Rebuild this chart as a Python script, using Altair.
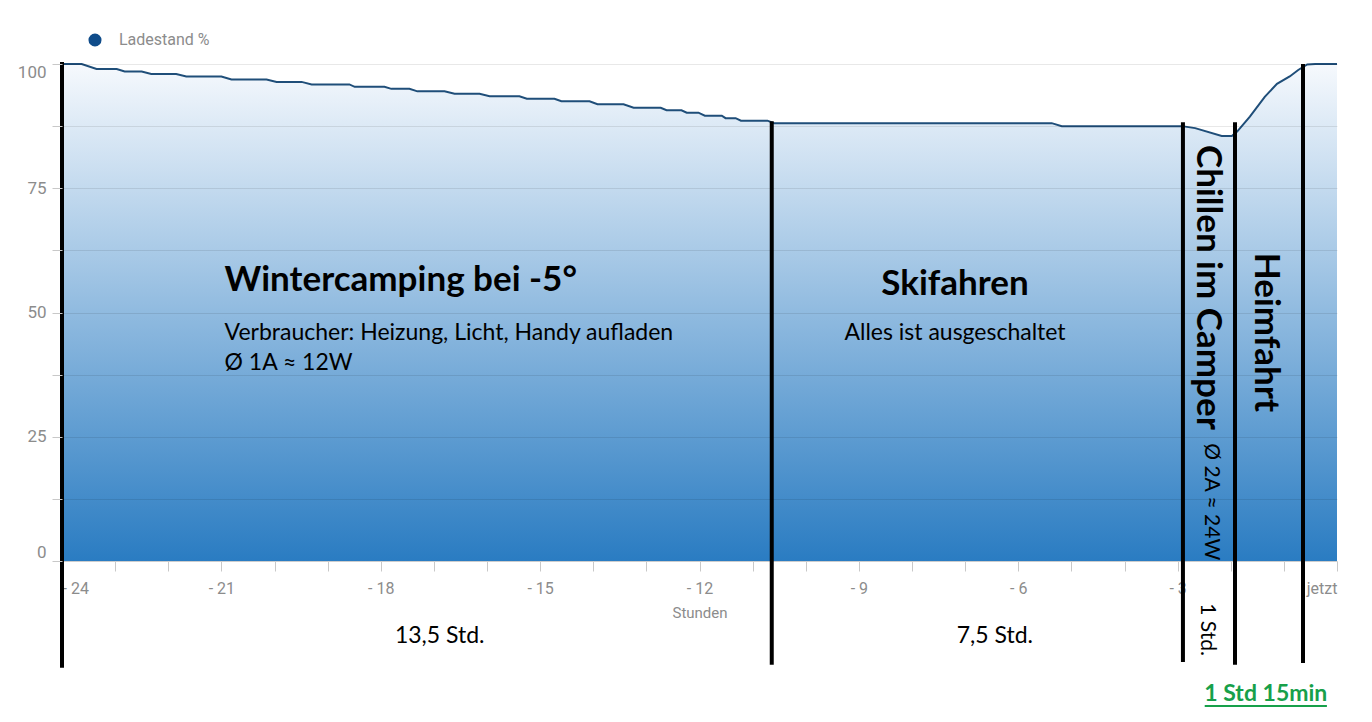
import altair as alt
import pandas as pd

# ---- battery charge series (hours before now, charge %) ----
hours = [-24.0, -23.63, -23.35, -22.97, -22.82, -22.5, -22.32, -21.85, -21.66, -21.0,
         -20.81, -20.15, -19.96, -19.49, -19.3, -18.59, -18.49, -17.93, -17.8, -17.46,
         -17.31, -16.8, -16.61, -16.14, -15.95, -15.39, -15.25, -14.73, -14.6, -14.07,
         -13.92, -13.43, -13.24, -12.73, -12.62, -12.34, -12.24, -12.02, -11.9, -11.58,
         -11.51, -11.32, -11.22, -10.72, -10.6, -5.37, -5.18, -2.92, -2.67, -2.17,
         -1.98, -1.88, -1.64, -1.36, -1.13, -0.89, -0.73, -0.56, -0.41, 0.0]
charge = [100, 100, 99.0, 99.0, 98.5, 98.5, 98.0, 98.0, 97.5, 97.5,
          96.9, 96.9, 96.4, 96.4, 95.9, 95.9, 95.4, 95.4, 95.0, 95.0,
          94.5, 94.5, 94.0, 94.0, 93.5, 93.5, 93.0, 93.0, 92.5, 92.5,
          91.9, 91.9, 91.2, 91.2, 90.7, 90.7, 90.2, 90.2, 89.6, 89.6,
          89.1, 89.1, 88.6, 88.6, 88.1, 88.1, 87.5, 87.5, 87.1, 85.5,
          85.5, 86.4, 89.4, 93.4, 96.0, 97.5, 98.8, 99.9, 100, 100]
series_name = "Ladestand %"

# ---- phase separators ----
sep_hours = [-24.0, -10.64, -2.9, -1.92, -0.64]
sep_top = [100.4, 88.5, 88.3, 88.3, 100.0]
sep_bottom = [-21.5, -20.9, -20.3, -20.9, -20.5]

# ---- annotations ----
big_left_text = ["Wintercamping bei -5°"]
big_left_x = [-20.94]
big_left_y = [56.5]

small_left_text = ["Verbraucher: Heizung, Licht, Handy aufladen", "Ø 1A ≈ 12W"]
small_left_x = [-20.94, -20.94]
small_left_y = [45.9, 39.8]

big_center_text = ["Skifahren"]
big_center_x = [-7.19]
big_center_y = [55.7]

small_center_text = ["Alles ist ausgeschaltet", "13,5 Std.", "7,5 Std."]
small_center_x = [-7.19, -16.89, -6.44]
small_center_y = [45.9, -15.1, -15.1]

big_rot_text = ["Chillen im Camper", "Heimfahrt"]
big_rot_x = [-2.43, -1.34]
big_rot_y = [83.7, 62.0]

small_rot_text = ["Ø 2A ≈ 24W", "1 Std."]
small_rot_x = [-2.37, -2.45]
small_rot_y = [23.7, -8.5]

green_text = ["1 Std 15min"]
green_x = [-1.34]
green_y = [-26.8]
underline_x = [-2.49]
underline_x2 = [-0.19]
underline_y = [-29.2]

FONT = "Lato"

df = pd.DataFrame({"Stunde": hours, "Ladestand": charge, "Serie": series_name})
sep_df = pd.DataFrame({"Stunde": sep_hours, "Ladestand": sep_top, "Unten": sep_bottom})

x_scale = alt.Scale(domain=[-24, 0], nice=False)
y_scale = alt.Scale(domain=[0, 100], nice=False)

x_axis = alt.Axis(
    values=list(range(-24, 1)),
    labelExpr="datum.value == 0 ? 'jetzt' : (datum.value % 3 == 0 ? '- ' + abs(datum.value) : '')",
    labelFlush=True, labelOverlap=False, grid=False,
    tickSize=10, tickColor="#c8c8c8", domainColor="#e2e2e2",
    labelColor="#8c8c8c", labelFont="Roboto", labelFontSize=16, labelPadding=9,
    title="Stunden", titleColor="#8c8c8c", titleFont="Roboto", titleFontSize=15,
    titleFontWeight="normal", titlePadding=9,
)
y_axis = alt.Axis(
    values=[0, 12.5, 25, 37.5, 50, 62.5, 75, 87.5, 100],
    labelExpr="datum.value % 25 == 0 ? datum.value : ''",
    labelFlush=True, labelOverlap=False, domain=False,
    grid=True, gridColor="#000000", gridOpacity=0.09,
    tickSize=10, tickColor="#c8c8c8",
    labelColor="#8c8c8c", labelFont="Roboto", labelFontSize=17, labelPadding=6,
    title=None, zindex=1,
)


def X(field="Stunde:Q"):
    return alt.X(field, scale=x_scale, axis=x_axis)


def Y(field="Ladestand:Q"):
    return alt.Y(field, scale=y_scale, axis=y_axis)


gradient = alt.Gradient(
    gradient="linear",
    stops=[alt.GradientStop(color="#f6f9fd", offset=0),
           alt.GradientStop(color="#2a7cc2", offset=1)],
    x1=1, x2=1, y1=0, y2=1,
)

area = alt.Chart(df).mark_area(color=gradient).encode(x=X(), y=Y())

line = alt.Chart(df).mark_line(strokeWidth=2).encode(
    x=X(), y=Y(),
    color=alt.Color("Serie:N", scale=alt.Scale(range=["#1f4e79"]),
                    legend=alt.Legend(title=None, orient="none", legendX=25, legendY=-32,
                                      symbolType="circle", symbolSize=170,
                                      symbolFillColor="#0f4c8a", symbolStrokeColor="#0f4c8a",
                                      symbolStrokeWidth=0,
                                      labelFont="Roboto", labelFontSize=16,
                                      labelColor="#8c8c8c", labelOffset=16, padding=0)),
)

rules = alt.Chart(sep_df).mark_rule(color="black", strokeWidth=4).encode(
    x=X(), y=Y(), y2="Unten:Q",
)


def text_layer(texts, xs, ys, **mark_kw):
    d = pd.DataFrame({"Stunde": xs, "Ladestand": ys, "Text": texts})
    return alt.Chart(d).mark_text(font=FONT, color="black", **mark_kw).encode(
        x=X(), y=Y(), text="Text:N",
    )


t1 = text_layer(big_left_text, big_left_x, big_left_y, fontSize=35, fontWeight="bold",
                align="left", baseline="middle")
t2 = text_layer(small_left_text, small_left_x, small_left_y, fontSize=23,
                align="left", baseline="middle")
t3 = text_layer(big_center_text, big_center_x, big_center_y, fontSize=35, fontWeight="bold",
                align="center", baseline="middle")
t4 = text_layer(small_center_text, small_center_x, small_center_y, fontSize=23,
                align="center", baseline="middle")
t5 = text_layer(big_rot_text, big_rot_x, big_rot_y, fontSize=35, fontWeight="bold",
                align="left", baseline="middle", angle=90)
t6 = text_layer(small_rot_text, small_rot_x, small_rot_y, fontSize=21,
                align="left", baseline="middle", angle=90)

green_df = pd.DataFrame({"Stunde": green_x, "Ladestand": green_y, "Text": green_text})
t7 = alt.Chart(green_df).mark_text(font=FONT, fontSize=23, fontWeight="bold", color="#17a04a",
                                   align="center", baseline="middle").encode(
    x=X(), y=Y(), text="Text:N",
)
ul_df = pd.DataFrame({"Stunde": underline_x, "Ende": underline_x2, "Ladestand": underline_y})
underline = alt.Chart(ul_df).mark_rule(color="#17a04a", strokeWidth=2).encode(
    x=X(), x2="Ende:Q", y=Y(),
)

chart = alt.layer(area, line, rules, t1, t2, t3, t4, t5, t6, t7, underline).properties(
    width=1275, height=497,
    autosize=alt.AutoSizeParams(type="none"),
    padding={"left": 62, "top": 64, "right": 35, "bottom": 161},
    background="white",
).configure_view(stroke=None)

chart.save("out.html", embed_options={"renderer": "svg", "actions": False})
